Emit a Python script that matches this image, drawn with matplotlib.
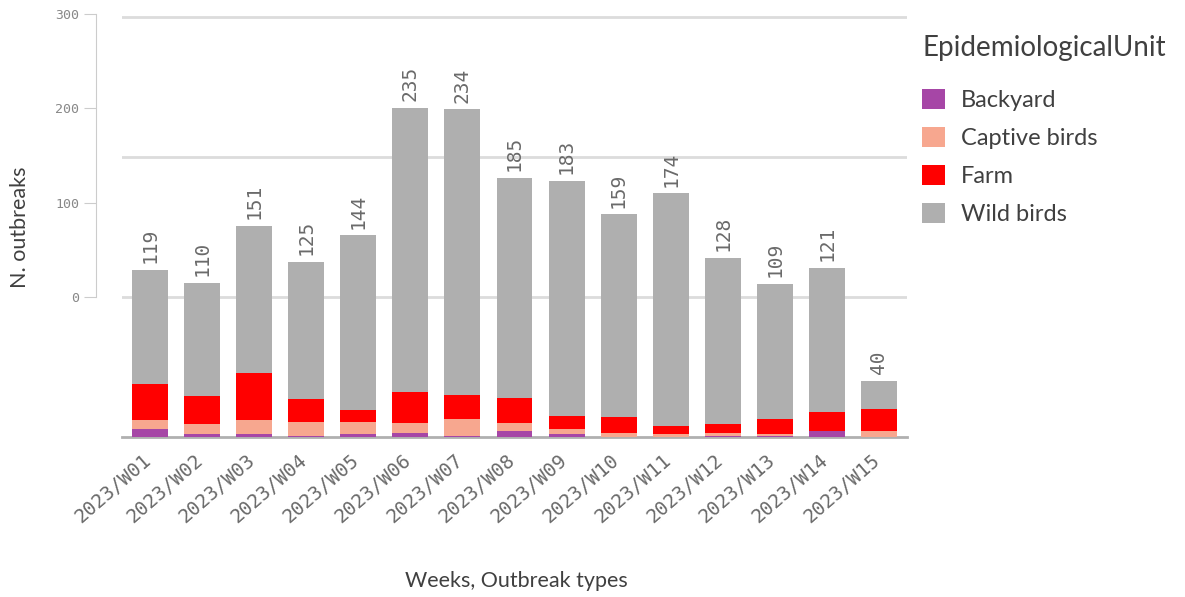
import numpy as np
import matplotlib.pyplot as plt
import matplotlib.transforms as mtransforms

weeks = ["2023/W01", "2023/W02", "2023/W03", "2023/W04", "2023/W05",
         "2023/W06", "2023/W07", "2023/W08", "2023/W09", "2023/W10",
         "2023/W11", "2023/W12", "2023/W13", "2023/W14", "2023/W15"]
backyard = [6, 2, 2, 1, 2, 3, 1, 4, 2, 0, 0, 1, 1, 4, 0]
captive = [6, 7, 10, 10, 9, 7, 12, 6, 4, 3, 2, 2, 1, 0, 4]
farm = [26, 20, 34, 16, 8, 22, 17, 18, 9, 11, 6, 6, 11, 14, 16]
wild = [81, 81, 105, 98, 125, 203, 204, 157, 168, 145, 166, 119, 96, 103, 20]

series = [("Backyard", backyard, "#a646a6"),
          ("Captive birds", captive, "#f7a78f"),
          ("Farm", farm, "#ff0000"),
          ("Wild birds", wild, "#afafaf")]
y_ticks = [0, 100, 200, 300]

W, H = 1185, 597
fig = plt.figure(figsize=(W / 100, H / 100), dpi=100)

# main plot area
ax = fig.add_axes([122 / W, (H - 437) / H, 785 / W, 422 / H])
x = np.arange(len(weeks))
bottom = np.zeros(len(weeks))
for name, vals, col in series:
    ax.bar(x, vals, width=0.69, bottom=bottom, color=col, label=name, zorder=3)
    bottom += np.array(vals)

for xi, tot in zip(x, bottom):
    ax.annotate(str(int(tot)), (xi, tot), xytext=(0, 5), textcoords="offset points",
                rotation=90, ha="center", va="bottom", fontsize=14,
                family="DejaVu Sans Mono", color="#6a6a6a")

ax.set_xlim(-0.54, len(weeks) - 0.46)
ax.set_ylim(0, 301.5)
ax.set_yticks([100, 200, 300])
ax.yaxis.grid(True, color="#dcdcdc", linewidth=2, zorder=0)
ax.tick_params(axis="y", left=False, labelleft=False)
ax.set_xticks(x)
ax.set_xticklabels(weeks, rotation=41, ha="right", rotation_mode="anchor",
                   fontsize=14, family="DejaVu Sans Mono", color="#6a6a6a")
ax.tick_params(axis="x", length=0, pad=10)
shift = mtransforms.ScaledTranslation(-8 / 100, 0, fig.dpi_scale_trans)
for lab in ax.get_xticklabels():
    lab.set_transform(lab.get_transform() + shift)
for s in ["top", "right", "left"]:
    ax.spines[s].set_visible(False)
ax.spines["bottom"].set_color("#b0b0b0")
ax.spines["bottom"].set_linewidth(2)

# separate axis carrying the value labels
yax = fig.add_axes([96 / W, (H - 297) / H, 1 / W, 283 / H])
yax.set_ylim(0, 300)
yax.set_yticks(y_ticks)
yax.set_yticklabels([str(v) for v in y_ticks], fontsize=9.5,
                    family="DejaVu Sans Mono", color="#888888")
yax.tick_params(axis="y", length=9, color="#cccccc", pad=3)
yax.set_xticks([])
for s in ["top", "right", "bottom"]:
    yax.spines[s].set_visible(False)
yax.spines["left"].set_color("#cccccc")
yax.patch.set_visible(False)

fig.text(20 / W, 1 - 227 / H, "N. outbreaks", rotation=90, ha="center", va="center",
         fontsize=15.5, family="Lato", color="#404040")
fig.text(516 / W, 1 - 581 / H, "Weeks, Outbreak types", ha="center", va="center",
         fontsize=15.5, family="Lato", color="#404040")

leg = ax.legend(loc="upper left", bbox_to_anchor=(901 / W, 1 - 14 / H),
                bbox_transform=fig.transFigure, frameon=False,
                title="EpidemiologicalUnit", prop={"family": "Lato", "size": 17},
                handlelength=0.95, handleheight=0.95, handletextpad=0.69,
                labelspacing=0.66, alignment="left")
leg.get_title().set_fontsize(20)
leg.get_title().set_family("Lato")
leg.get_title().set_color("#404040")
leg._legend_box.sep = 20
for t in leg.get_texts():
    t.set_color("#404040")

fig.savefig("out.png", dpi=100)
